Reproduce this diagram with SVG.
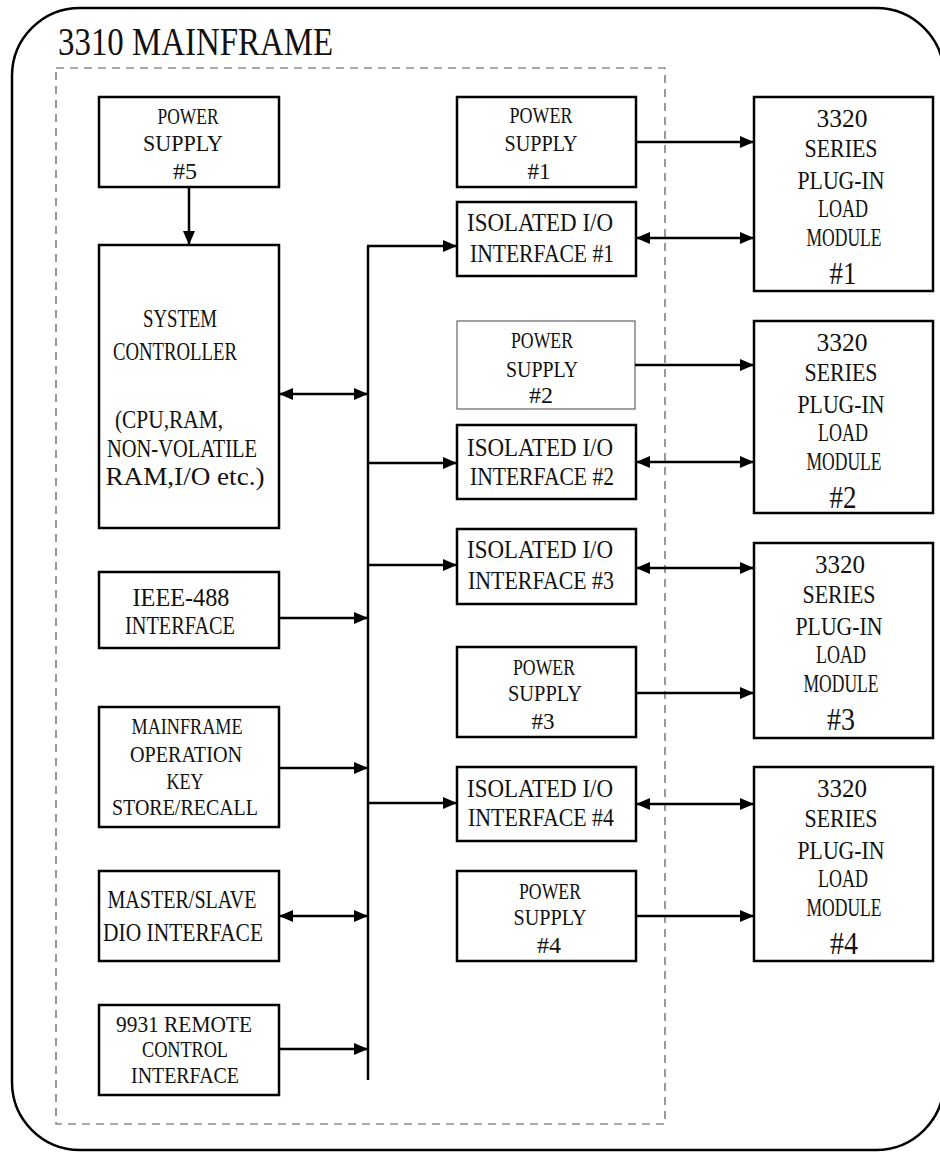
<svg xmlns="http://www.w3.org/2000/svg" width="940" height="1152" viewBox="0 0 940 1152">
<style>
  .bx{fill:#fff;stroke:#000;stroke-width:2.5}
  .thin{fill:#fff;stroke:#444;stroke-width:1}
  .t{font-family:"Liberation Serif","DejaVu Serif",serif;font-size:26px;fill:#111;text-anchor:middle}
  .s{font-size:23px}
  .big{font-size:32px}
  .ln{fill:none;stroke:#000;stroke-width:2.5}
</style>
<defs>
  <marker id="ah" viewBox="0 0 14 12" refX="14" refY="6" markerWidth="14" markerHeight="12" markerUnits="userSpaceOnUse" orient="auto-start-reverse">
    <path d="M0,0 L14,6 L0,12 Z" fill="#000"/>
  </marker>
</defs>
<rect width="940" height="1152" fill="#fff"/>
<g id="frame">
  <rect x="12" y="8" width="932" height="1142" rx="68" ry="68" fill="none" stroke="#000" stroke-width="2.5"/>
  <rect x="56" y="68" width="609" height="1056" fill="none" stroke="#555" stroke-width="1.2" stroke-dasharray="8,6"/>
  <text x="58" y="55" font-family="Liberation Serif, serif" font-size="40" fill="#111" textLength="275" lengthAdjust="spacingAndGlyphs">3310 MAINFRAME</text>
</g>

<g id="ps5">
  <rect class="bx" x="99" y="97" width="180" height="90"/>
  <text class="t s" x="188" y="124" textLength="61" lengthAdjust="spacingAndGlyphs">POWER</text>
  <text class="t s" x="183" y="151" textLength="80" lengthAdjust="spacingAndGlyphs">SUPPLY</text>
  <text class="t s" x="185" y="179" textLength="24" lengthAdjust="spacingAndGlyphs">#5</text>
</g>
<g id="sysctrl">
  <rect class="bx" x="99" y="245" width="180" height="283"/>
  <text class="t" x="180" y="327" textLength="74" lengthAdjust="spacingAndGlyphs">SYSTEM</text>
  <text class="t" x="175" y="360" textLength="124" lengthAdjust="spacingAndGlyphs">CONTROLLER</text>
  <text class="t" x="169" y="428" textLength="108" lengthAdjust="spacingAndGlyphs">(CPU,RAM,</text>
  <text class="t" x="182" y="457" textLength="150" lengthAdjust="spacingAndGlyphs">NON-VOLATILE</text>
  <text class="t" x="185" y="485" textLength="159" lengthAdjust="spacingAndGlyphs">RAM,I/O etc.)</text>
</g>
<g id="ieee">
  <rect class="bx" x="99" y="572" width="180" height="76"/>
  <text class="t" x="181" y="606" textLength="97" lengthAdjust="spacingAndGlyphs">IEEE-488</text>
  <text class="t" x="180" y="634" textLength="110" lengthAdjust="spacingAndGlyphs">INTERFACE</text>
</g>
<g id="mainkey">
  <rect class="bx" x="99" y="707" width="180" height="120"/>
  <text class="t s" x="187" y="734" textLength="111" lengthAdjust="spacingAndGlyphs">MAINFRAME</text>
  <text class="t s" x="186" y="762" textLength="112" lengthAdjust="spacingAndGlyphs">OPERATION</text>
  <text class="t s" x="185" y="789" textLength="37" lengthAdjust="spacingAndGlyphs">KEY</text>
  <text class="t s" x="185" y="815" textLength="146" lengthAdjust="spacingAndGlyphs">STORE/RECALL</text>
</g>
<g id="masterslave">
  <rect class="bx" x="99" y="871" width="180" height="90"/>
  <text class="t" x="182" y="908" textLength="149" lengthAdjust="spacingAndGlyphs">MASTER/SLAVE</text>
  <text class="t" x="183" y="941" textLength="160" lengthAdjust="spacingAndGlyphs">DIO INTERFACE</text>
</g>
<g id="remote">
  <rect class="bx" x="99" y="1005" width="180" height="90"/>
  <text class="t s" x="184" y="1032" textLength="136" lengthAdjust="spacingAndGlyphs">9931 REMOTE</text>
  <text class="t s" x="185" y="1057" textLength="86" lengthAdjust="spacingAndGlyphs">CONTROL</text>
  <text class="t s" x="185" y="1083" textLength="108" lengthAdjust="spacingAndGlyphs">INTERFACE</text>
</g>

<g id="ps1">
  <rect class="bx" x="457" y="97" width="179" height="90"/>
  <text class="t s" x="541" y="123" textLength="63" lengthAdjust="spacingAndGlyphs">POWER</text>
  <text class="t s" x="541" y="151" textLength="73" lengthAdjust="spacingAndGlyphs">SUPPLY</text>
  <text class="t s" x="539" y="179" textLength="23" lengthAdjust="spacingAndGlyphs">#1</text>
</g>
<g id="iso1">
  <rect class="bx" x="457" y="202" width="179" height="74"/>
  <text class="t" x="540" y="231" textLength="146" lengthAdjust="spacingAndGlyphs">ISOLATED I/O</text>
  <text class="t" x="542" y="262" textLength="144" lengthAdjust="spacingAndGlyphs">INTERFACE #1</text>
</g>
<g id="ps2">
  <rect class="thin" x="457" y="321" width="178" height="88"/>
  <text class="t s" x="542" y="348" textLength="62" lengthAdjust="spacingAndGlyphs">POWER</text>
  <text class="t s" x="542" y="377" textLength="72" lengthAdjust="spacingAndGlyphs">SUPPLY</text>
  <text class="t s" x="541" y="403" textLength="24" lengthAdjust="spacingAndGlyphs">#2</text>
</g>
<g id="iso2">
  <rect class="bx" x="457" y="425" width="179" height="74"/>
  <text class="t" x="540" y="456" textLength="146" lengthAdjust="spacingAndGlyphs">ISOLATED I/O</text>
  <text class="t" x="542" y="485" textLength="144" lengthAdjust="spacingAndGlyphs">INTERFACE #2</text>
</g>
<g id="iso3">
  <rect class="bx" x="457" y="529" width="179" height="75"/>
  <text class="t" x="540" y="558" textLength="146" lengthAdjust="spacingAndGlyphs">ISOLATED I/O</text>
  <text class="t" x="541" y="589" textLength="146" lengthAdjust="spacingAndGlyphs">INTERFACE #3</text>
</g>
<g id="ps3">
  <rect class="bx" x="457" y="647" width="179" height="90"/>
  <text class="t s" x="544" y="675" textLength="62" lengthAdjust="spacingAndGlyphs">POWER</text>
  <text class="t s" x="545" y="701" textLength="74" lengthAdjust="spacingAndGlyphs">SUPPLY</text>
  <text class="t s" x="543" y="729" textLength="23" lengthAdjust="spacingAndGlyphs">#3</text>
</g>
<g id="iso4">
  <rect class="bx" x="457" y="767" width="179" height="74"/>
  <text class="t" x="540" y="797" textLength="146" lengthAdjust="spacingAndGlyphs">ISOLATED I/O</text>
  <text class="t" x="541" y="826" textLength="146" lengthAdjust="spacingAndGlyphs">INTERFACE #4</text>
</g>
<g id="ps4">
  <rect class="bx" x="457" y="871" width="179" height="90"/>
  <text class="t s" x="550" y="899" textLength="62" lengthAdjust="spacingAndGlyphs">POWER</text>
  <text class="t s" x="550" y="925" textLength="73" lengthAdjust="spacingAndGlyphs">SUPPLY</text>
  <text class="t s" x="549" y="953" textLength="24" lengthAdjust="spacingAndGlyphs">#4</text>
</g>

<g id="lm1">
  <rect class="bx" x="754" y="97" width="179" height="194"/>
  <text class="t" x="842" y="127" textLength="51" lengthAdjust="spacingAndGlyphs">3320</text>
  <text class="t" x="841" y="157" textLength="73" lengthAdjust="spacingAndGlyphs">SERIES</text>
  <text class="t" x="841" y="189" textLength="87" lengthAdjust="spacingAndGlyphs">PLUG-IN</text>
  <text class="t" x="843" y="217" textLength="50" lengthAdjust="spacingAndGlyphs">LOAD</text>
  <text class="t" x="844" y="246" textLength="75" lengthAdjust="spacingAndGlyphs">MODULE</text>
  <text class="t big" x="843" y="284" textLength="27" lengthAdjust="spacingAndGlyphs">#1</text>
</g>
<g id="lm2">
  <rect class="bx" x="754" y="321" width="179" height="192"/>
  <text class="t" x="842" y="351" textLength="51" lengthAdjust="spacingAndGlyphs">3320</text>
  <text class="t" x="841" y="381" textLength="73" lengthAdjust="spacingAndGlyphs">SERIES</text>
  <text class="t" x="841" y="413" textLength="87" lengthAdjust="spacingAndGlyphs">PLUG-IN</text>
  <text class="t" x="843" y="441" textLength="50" lengthAdjust="spacingAndGlyphs">LOAD</text>
  <text class="t" x="844" y="470" textLength="75" lengthAdjust="spacingAndGlyphs">MODULE</text>
  <text class="t big" x="843" y="508" textLength="27" lengthAdjust="spacingAndGlyphs">#2</text>
</g>
<g id="lm3">
  <rect class="bx" x="754" y="543" width="179" height="195"/>
  <text class="t" x="840" y="573" textLength="50" lengthAdjust="spacingAndGlyphs">3320</text>
  <text class="t" x="839" y="603" textLength="73" lengthAdjust="spacingAndGlyphs">SERIES</text>
  <text class="t" x="839" y="635" textLength="87" lengthAdjust="spacingAndGlyphs">PLUG-IN</text>
  <text class="t" x="841" y="663" textLength="50" lengthAdjust="spacingAndGlyphs">LOAD</text>
  <text class="t" x="841" y="692" textLength="75" lengthAdjust="spacingAndGlyphs">MODULE</text>
  <text class="t big" x="841" y="730" textLength="28" lengthAdjust="spacingAndGlyphs">#3</text>
</g>
<g id="lm4">
  <rect class="bx" x="754" y="767" width="179" height="194"/>
  <text class="t" x="842" y="797" textLength="50" lengthAdjust="spacingAndGlyphs">3320</text>
  <text class="t" x="841" y="827" textLength="73" lengthAdjust="spacingAndGlyphs">SERIES</text>
  <text class="t" x="841" y="859" textLength="87" lengthAdjust="spacingAndGlyphs">PLUG-IN</text>
  <text class="t" x="843" y="887" textLength="50" lengthAdjust="spacingAndGlyphs">LOAD</text>
  <text class="t" x="844" y="916" textLength="75" lengthAdjust="spacingAndGlyphs">MODULE</text>
  <text class="t big" x="844" y="954" textLength="28" lengthAdjust="spacingAndGlyphs">#4</text>
</g>

<g id="connectors">
  <line class="ln" x1="189" y1="187" x2="189" y2="245" marker-end="url(#ah)"/>
  <line class="ln" x1="368" y1="246" x2="368" y2="1080"/>
  <line class="ln" x1="279" y1="394" x2="368" y2="394" marker-start="url(#ah)" marker-end="url(#ah)"/>
  <line class="ln" x1="279" y1="618" x2="368" y2="618" marker-end="url(#ah)"/>
  <line class="ln" x1="279" y1="768" x2="368" y2="768" marker-end="url(#ah)"/>
  <line class="ln" x1="279" y1="916" x2="368" y2="916" marker-start="url(#ah)" marker-end="url(#ah)"/>
  <line class="ln" x1="279" y1="1049" x2="368" y2="1049" marker-end="url(#ah)"/>
  <line class="ln" x1="367" y1="246" x2="457" y2="246" marker-end="url(#ah)"/>
  <line class="ln" x1="368" y1="463" x2="457" y2="463" marker-end="url(#ah)"/>
  <line class="ln" x1="368" y1="565" x2="457" y2="565" marker-end="url(#ah)"/>
  <line class="ln" x1="368" y1="803" x2="457" y2="803" marker-end="url(#ah)"/>
  <line class="ln" x1="636" y1="142" x2="754" y2="142" marker-end="url(#ah)"/>
  <line class="ln" x1="636" y1="238" x2="754" y2="238" marker-start="url(#ah)" marker-end="url(#ah)"/>
  <line class="ln" x1="635" y1="365" x2="754" y2="365" marker-end="url(#ah)"/>
  <line class="ln" x1="636" y1="462" x2="754" y2="462" marker-start="url(#ah)" marker-end="url(#ah)"/>
  <line class="ln" x1="636" y1="568" x2="754" y2="568" marker-start="url(#ah)" marker-end="url(#ah)"/>
  <line class="ln" x1="636" y1="693" x2="754" y2="693" marker-end="url(#ah)"/>
  <line class="ln" x1="636" y1="804" x2="754" y2="804" marker-start="url(#ah)" marker-end="url(#ah)"/>
  <line class="ln" x1="636" y1="916" x2="754" y2="916" marker-end="url(#ah)"/>
</g>
</svg>
